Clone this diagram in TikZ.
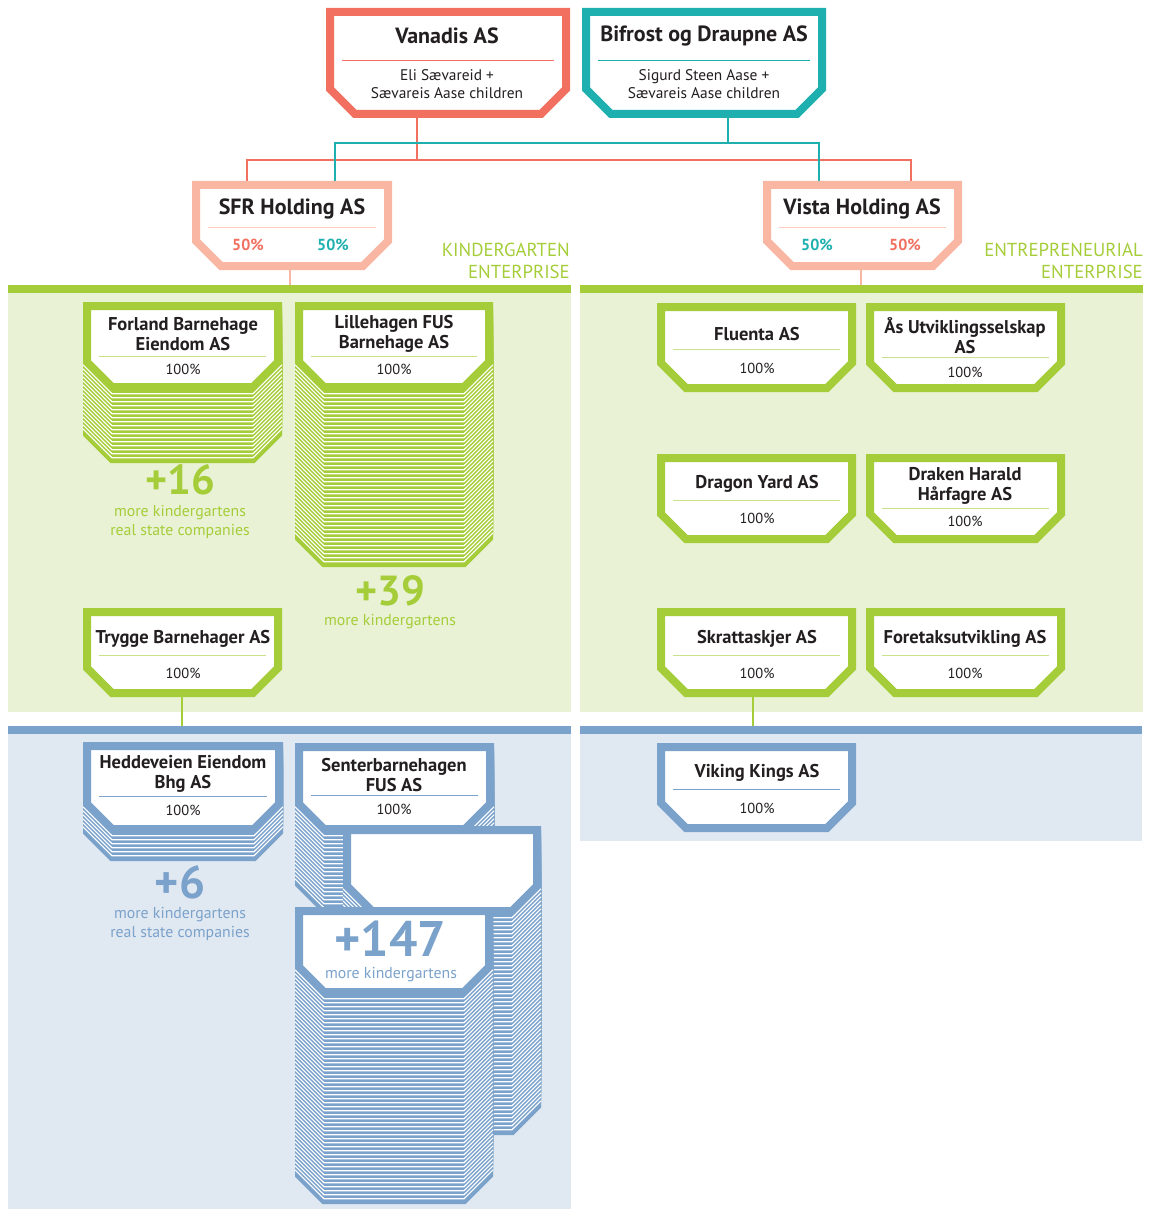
\documentclass[tikz,border=0pt]{standalone}
\usepackage{fontspec}
\setmainfont{PT Sans}

\definecolor{vanred}{HTML}{F1705F}
\definecolor{bifteal}{HTML}{1EB0AE}
\definecolor{holdpink}{HTML}{F9B6A3}
\definecolor{kidgreen}{HTML}{A5CD39}
\definecolor{kidbg}{HTML}{E9F2D5}
\definecolor{subblue}{HTML}{7BA2CB}
\definecolor{subbg}{HTML}{E0E8F1}
\definecolor{txt}{HTML}{231F20}

% one card: colour, left, top, right, bottom (outer edge)
\newcommand{\card}[5]{%
  \draw[draw=#1, fill=white, line width=8pt, line join=miter]
    (#2+4,#3+4) -- (#4-4,#3+4) -- (#4-4,#5-29) -- (#4-29,#5-4)
    -- (#2+29,#5-4) -- (#2+4,#5-29) -- cycle;
}
% pile of cards below a card: colour, left, top, right, bottom, count
\newcommand{\cardpile}[6]{%
  \foreach \k in {#6,...,1}{
    \filldraw[#1, line width=8pt, line join=miter, shift={(0,4*\k)}]
      (#2+4,#3+4) -- (#4-4,#3+4) -- (#4-4,#5-29) -- (#4-29,#5-4)
      -- (#2+29,#5-4) -- (#2+4,#5-29) -- cycle;
    \ifnum\k<#6
      \draw[white, line width=1.2pt, shift={(0,4*\k)}]
        (#2,#5-30.2) -- (#2+29,#5-1.2) -- (#4-29,#5-1.2) -- (#4,#5-30.2);
    \fi
  }
}

\tikzset{
  title/.style={font=\bfseries\fontsize{18.5}{20}\selectfont, text=txt, align=center},
  bigtitle/.style={font=\bfseries\fontsize{22}{24}\selectfont, text=txt},
  share/.style={font=\fontsize{14.5}{18}\selectfont, text=txt, align=center},
  owner/.style={font=\fontsize{15.4}{18.5}\selectfont, text=txt, align=center},
  boldshare/.style={font=\bfseries\fontsize{16}{18}\selectfont},
  count/.style={font=\bfseries\fontsize{42}{44}\selectfont, inner sep=0pt},
  note/.style={font=\fontsize{15.8}{19}\selectfont, align=center, inner sep=0pt},
  area/.style={font=\fontsize{18.8}{22.5}\selectfont, text=kidgreen, align=right,
    anchor=east, inner sep=0pt},
  link/.style={line width=2.5pt},
}

\begin{document}
\begin{tikzpicture}[x=1pt,y=-1pt]
\useasboundingbox (0,0) rectangle (1151,1209);

% areas
\fill[kidbg] (8,293) rectangle (571,712);
\fill[kidbg] (580,293) rectangle (1143,712);
\fill[kidgreen] (8,285) rectangle (571,293);
\fill[kidgreen] (580,285) rectangle (1143,293);
\fill[subbg] (8,734) rectangle (571,1209);
\fill[subbg] (580,734) rectangle (1142,841);
\fill[subblue] (8,726) rectangle (571,734);
\fill[subblue] (580,726) rectangle (1142,734);

\node[area] (kgarea) at (570,261) {KINDERGARTEN\\ENTERPRISE};
\node[area] (enarea) at (1143,261) {ENTREPRENEURIAL\\ENTERPRISE};

% owners
\coordinate (vanadis-s) at (417,118);
\coordinate (bifrost-s) at (728,118);
\coordinate (sfr-n1) at (247,181);
\coordinate (sfr-n2) at (335,181);
\coordinate (vista-n1) at (819,181);
\coordinate (vista-n2) at (911,181);
\coordinate (sfr-s) at (290,270);
\coordinate (vista-s) at (861,270);
\coordinate (kgband) at (290,285);
\coordinate (enband) at (861,285);
\coordinate (trygge-s) at (182,697);
\coordinate (skratt-s) at (753,697);
\coordinate (kgsub) at (182,726);
\coordinate (ensub) at (753,726);

\draw[link, vanred] (vanadis-s) -- ++(0,42) coordinate (vanadis-j)
  -| (sfr-n1);
\draw[link, vanred] (vanadis-j) -| (vista-n2);
\draw[link, bifteal] (bifrost-s) -- ++(0,25) coordinate (bifrost-j)
  -| (sfr-n2);
\draw[link, bifteal] (bifrost-j) -| (vista-n1);
\draw[link, holdpink] (sfr-s) -- (kgband);
\draw[link, holdpink] (vista-s) -- (enband);
\draw[link, kidgreen] (trygge-s) -- (kgsub);
\draw[link, kidgreen] (skratt-s) -- (ensub);

\card{vanred}{326}{8}{570}{118}
\card{bifteal}{582}{8}{826}{118}
\draw[vanred, line width=1pt] (342,61) -- (554,61);
\draw[bifteal, line width=1pt] (598,61) -- (810,61);
\node[bigtitle] (vanadis) at (447,36) {Vanadis AS};
\node[bigtitle] (bifrost) at (704,36) {Bifrost og Draupne AS};
\node[owner] (vanadis-own) at (447,84) {Eli Sævareid +\\Sævareis Aase children};
\node[owner] (bifrost-own) at (704,84) {Sigurd Steen Aase +\\Sævareis Aase children};

% holdings
\card{holdpink}{192}{181}{392}{270}
\card{holdpink}{763}{181}{962}{270}
\draw[holdpink!70, line width=1pt] (208,227) -- (376,227);
\draw[holdpink!70, line width=1pt] (779,227) -- (946,227);
\node[bigtitle] (sfr) at (292,209) {SFR Holding AS};
\node[bigtitle] (vista) at (862,209) {Vista Holding AS};
\node[boldshare, text=vanred] (sfr-a) at (248,245) {50\%};
\node[boldshare, text=bifteal] (sfr-b) at (333,245) {50\%};
\node[boldshare, text=bifteal] (vista-a) at (817,245) {50\%};
\node[boldshare, text=vanred] (vista-b) at (905,245) {50\%};

% kindergarten enterprise
\cardpile{kidgreen}{83}{302}{282}{391}{18}
\card{kidgreen}{83}{302}{282}{391}
\cardpile{kidgreen}{295}{302}{493}{391}{44}
\card{kidgreen}{295}{302}{493}{391}
\card{kidgreen}{83}{608}{282}{697}
\foreach \l/\r/\y in {99/266/356, 311/477/356, 99/266/655}
  \draw[kidgreen!60, line width=1pt] (\l,\y) -- (\r,\y);
\node[title] (forland) at (183,334) {Forland Barnehage\\Eiendom AS};
\node[share] (forland-p) at (183,369) {100\%};
\node[title] (lillehagen) at (394,334) {Lillehagen FUS\\Barnehage AS};
\node[share] (lillehagen-p) at (394,369) {100\%};
\node[title] (trygge) at (183,639) {Trygge Barnehager AS};
\node[share] (trygge-p) at (183,673) {100\%};
\node[count, text=kidgreen] (forland-n) at (180,480) {+16};
\node[note, text=kidgreen] (forland-t) at (180,522) {more kindergartens\\real state companies};
\node[count, text=kidgreen] (lillehagen-n) at (390,591) {+39};
\node[note, text=kidgreen] (lillehagen-t) at (390,622) {more kindergartens};

% entrepreneurial enterprise
\foreach \l/\t in {657/303, 866/303, 657/454, 866/454, 657/608, 866/608}
  \card{kidgreen}{\l}{\t}{\l+199}{\t+89}
\foreach \l/\y in {673/349, 882/357, 673/500, 882/508, 673/655, 882/655}
  \draw[kidgreen!60, line width=1pt] (\l,\y) -- (\l+167,\y);
\node[title] (fluenta) at (757,334) {Fluenta AS};
\node[share] (fluenta-p) at (757,368) {100\%};
\node[title] (aas) at (965,336) {Ås Utviklingsselskap\\AS};
\node[share] (aas-p) at (965,372) {100\%};
\node[title] (dragon) at (757,484) {Dragon Yard AS};
\node[share] (dragon-p) at (757,518) {100\%};
\node[title] (draken) at (965,486) {Draken Harald\\Hårfagre AS};
\node[share] (draken-p) at (965,521) {100\%};
\node[title] (skratt) at (757,639) {Skrattaskjer AS};
\node[share] (skratt-p) at (757,673) {100\%};
\node[title] (foretak) at (965,639) {Foretaksutvikling AS};
\node[share] (foretak-p) at (965,673) {100\%};

% subsidiaries
\cardpile{subblue}{83}{742}{283}{833}{7}
\card{subblue}{83}{742}{283}{833}
\cardpile{subblue}{295}{743}{494}{833}{20}
\card{subblue}{295}{743}{494}{833}
\cardpile{subblue}{343}{826}{541}{915}{55}
\card{subblue}{343}{826}{541}{915}
\cardpile{subblue}{295}{907}{493}{996}{52}
\card{subblue}{295}{907}{493}{996}
\card{subblue}{657}{743}{856}{832}
\foreach \l/\r/\y in {99/267/796, 311/478/795, 673/840/789}
  \draw[subblue, line width=1pt] (\l,\y) -- (\r,\y);
\node[title] (hedde) at (183,774) {Heddeveien Eiendom\\Bhg AS};
\node[share] (hedde-p) at (183,810) {100\%};
\node[title] (senter) at (394,775) {Senterbarnehagen\\FUS AS};
\node[share] (senter-p) at (394,809) {100\%};
\node[title] (viking) at (757,773) {Viking Kings AS};
\node[share] (viking-p) at (757,808) {100\%};
\node[count, text=subblue, font=\bfseries\fontsize{46}{48}\selectfont] (hedde-n) at (180,882) {+6};
\node[note, text=subblue] (hedde-t) at (180,924) {more kindergartens\\real state companies};
\node[count, text=subblue, font=\bfseries\fontsize{50}{52}\selectfont] (senter-n) at (390,939) {+147};
\node[note, text=subblue] (senter-t) at (391,975) {more kindergartens};

\end{tikzpicture}
\end{document}
